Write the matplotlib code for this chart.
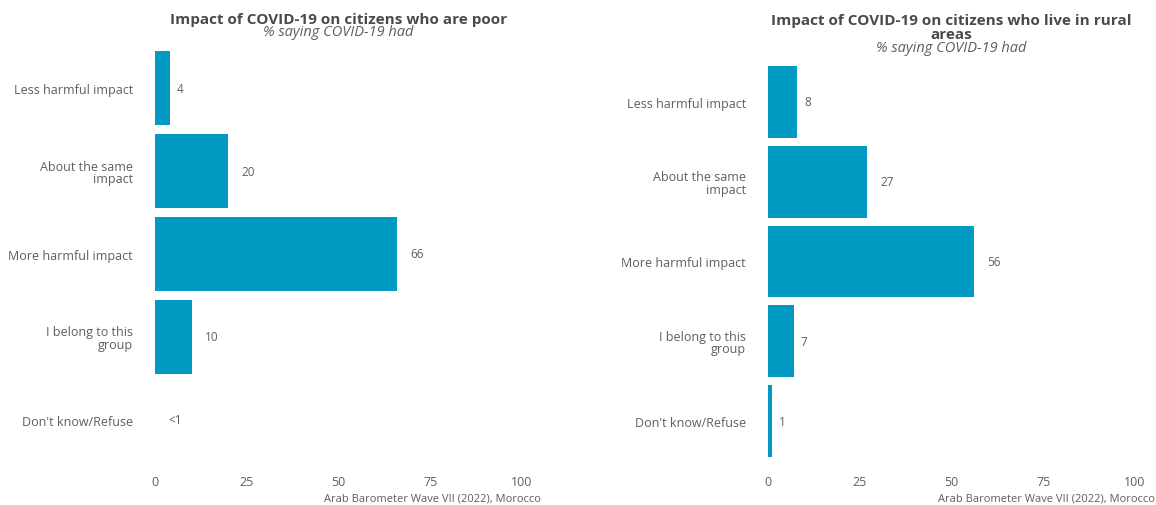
import numpy as np
import matplotlib
matplotlib.use("Agg")
import matplotlib.pyplot as plt
import matplotlib.transforms as mtransforms

plt.rcParams['font.family'] = ['Open Sans', 'DejaVu Sans']

categories = ["Less harmful impact", "About the same\nimpact", "More harmful impact",
              "I belong to this\ngroup", "Don't know/Refuse"]

poor_values = [4, 20, 66, 10, 0]
poor_labels = ["4", "20", "66", "10", "<1"]

rural_values = [8, 27, 56, 7, 1]
rural_labels = ["8", "27", "56", "7", "1"]

x_ticks = [0, 25, 50, 75, 100]

bar_color = "#0099C1"
text_grey = "#5e5e5e"
title_grey = "#4a4a4a"

fig = plt.figure(figsize=(11.56, 5.06), dpi=100)


def draw_panel(rect, values, labels, title, subtitle, title_y, sub_y, caption_right):
    ax = fig.add_axes(rect)
    y = np.arange(len(categories))
    ax.barh(y, values, height=0.9, color=bar_color)
    ax.set_ylim(len(categories) - 0.45, -0.55)
    ax.set_xlim(0, 100)
    ax.set_xticks(x_ticks)
    ax.set_yticks(y)
    ax.set_yticklabels(categories, linespacing=0.95)
    ax.tick_params(axis='both', length=0, labelsize=9, labelcolor=text_grey)
    ax.tick_params(axis='y', pad=16)
    ax.tick_params(axis='x', pad=7)
    for lab in ax.get_yticklabels():
        lab.set_horizontalalignment('right')
        lab.set_multialignment('right')
    for s in ax.spines.values():
        s.set_visible(False)

    # value labels, shifted right by their own width (like hjust = -1)
    texts = []
    for yi, v, lab in zip(y, values, labels):
        t = ax.text(v, yi, lab, ha='left', va='center', fontsize=8.5, color=text_grey)
        texts.append(t)
    fig.canvas.draw()
    r = fig.canvas.get_renderer()
    for t in texts:
        w = t.get_window_extent(r).width
        t.set_transform(mtransforms.offset_copy(ax.transData, fig=fig, x=w * 72 / fig.dpi, units='points'))

    cx = rect[0] + rect[2] / 2
    fig.text(cx, title_y, title, ha='center', va='center', fontsize=11,
             fontweight='bold', color=title_grey, linespacing=1.05)
    fig.text(cx, sub_y, subtitle, ha='center', va='center', fontsize=10.5,
             style='italic', color=text_grey)
    fig.text(caption_right, 1 - 499 / 506, "Arab Barometer Wave VII (2022), Morocco",
             ha='right', va='center', fontsize=8, color=text_grey)
    return ax


draw_panel([155 / 1156, 1 - 466.6 / 506, 367 / 1156, 423.2 / 506],
           poor_values, poor_labels,
           "Impact of COVID-19 on citizens who are poor", "% saying COVID-19 had",
           1 - 20 / 506, 1 - 33 / 506, 541 / 1156)

draw_panel([768 / 1156, 1 - 466 / 506, 367 / 1156, 407 / 506],
           rural_values, rural_labels,
           "Impact of COVID-19 on citizens who live in rural\nareas", "% saying COVID-19 had",
           1 - 28 / 506, 1 - 48 / 506, 1155 / 1156)

fig.savefig("out.png", dpi=100)
